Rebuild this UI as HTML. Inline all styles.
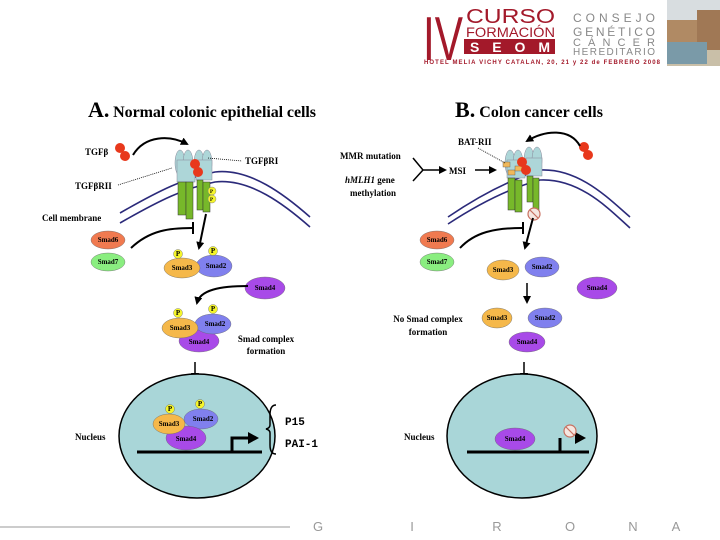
<!DOCTYPE html>
<html><head><meta charset="utf-8"><style>
html,body{margin:0;padding:0;background:#fff;width:720px;height:540px;overflow:hidden}
svg{display:block}
.s{font-family:"Liberation Serif",serif;font-weight:bold}
</style></head><body>
<svg width="720" height="540" viewBox="0 0 720 540" xmlns="http://www.w3.org/2000/svg">
<defs>
<marker id="ah" markerWidth="8" markerHeight="8" refX="6" refY="4" orient="auto" markerUnits="userSpaceOnUse"><path d="M0,0 L8,4 L0,8 z" fill="#000"/></marker>
</defs>
<!-- header -->
<text x="423" y="60" font-family="Liberation Sans,sans-serif" font-size="62" fill="#a3192a" textLength="40" lengthAdjust="spacingAndGlyphs">IV</text>
<text x="466" y="23" font-family="Liberation Sans,sans-serif" font-size="20" fill="#a3192a" textLength="89" lengthAdjust="spacingAndGlyphs">CURSO</text>
<text x="466" y="37" font-family="Liberation Sans,sans-serif" font-size="14" fill="#a3192a" textLength="89" lengthAdjust="spacingAndGlyphs">FORMACIÓN</text>
<rect x="464" y="39" width="91" height="15" fill="#a3192a"/>
<text x="470" y="52" font-family="Liberation Sans,sans-serif" font-weight="bold" font-size="14" fill="#fff" textLength="80" lengthAdjust="spacing">SEOM</text>
<g font-family="Liberation Sans,sans-serif" font-size="12" fill="#888">
<text x="573" y="22" textLength="82" lengthAdjust="spacing">CONSEJO</text>
<text x="573" y="36" textLength="82" lengthAdjust="spacing">GENÉTICO</text>
<text x="573" y="46" font-size="11" textLength="82" lengthAdjust="spacing">CÁNCER</text>
<text x="573" y="55" font-size="10" textLength="82" lengthAdjust="spacing">HEREDITARIO</text>
</g>
<text x="424" y="64" font-family="Liberation Sans,sans-serif" font-weight="bold" font-size="6" fill="#a3192a" textLength="236" lengthAdjust="spacing">HOTEL MELIA VICHY CATALAN, 20, 21 y 22 de FEBRERO 2008</text>
<rect x="667" y="0" width="53" height="66" fill="#c9bfa8"/>
<rect x="667" y="0" width="53" height="20" fill="#d8dde0"/>
<rect x="667" y="20" width="30" height="22" fill="#b08a64"/>
<rect x="697" y="10" width="23" height="40" fill="#a07855"/>
<rect x="667" y="42" width="40" height="22" fill="#7a9aa8"/>

<!-- titles -->
<text x="88" y="117" class="s" font-size="16" textLength="228" lengthAdjust="spacing"><tspan font-size="22">A.</tspan> Normal colonic epithelial cells</text>
<text x="455" y="117" class="s" font-size="16" textLength="148" lengthAdjust="spacing"><tspan font-size="22">B.</tspan> Colon cancer cells</text>

<!-- membranes -->
<g fill="none" stroke="#2b2a7a" stroke-width="1.6">
<path d="M120,213 C160,190 185,178 215,172 C250,168 285,195 310,217"/>
<path d="M120,223 C160,200 185,188 215,182 C250,178 285,205 310,227"/>
<path d="M448,217 C480,195 510,180 540,170 C580,168 610,200 630,217"/>
<path d="M448,224 C480,203 510,188 540,180 C580,178 610,210 630,228"/>
</g>

<!-- LEFT receptors -->
<g fill="#add6d8" stroke="#889" stroke-width="0.5">
<ellipse cx="180" cy="163" rx="5" ry="13"/><ellipse cx="188" cy="163" rx="5" ry="13"/>
<ellipse cx="199" cy="163" rx="5" ry="13"/><ellipse cx="207" cy="163" rx="5" ry="13"/>
<rect x="177" y="160" width="18" height="22"/><rect x="196" y="160" width="16" height="20"/>
</g>
<g fill="#77b82a" stroke="#333" stroke-width="0.5">
<rect x="178" y="182" width="8" height="33"/><rect x="186" y="182" width="7" height="37"/>
<rect x="197" y="180" width="6" height="30"/><rect x="203" y="182" width="7" height="30"/>
</g>
<circle cx="195" cy="164" r="5" fill="#e8381c"/><circle cx="198" cy="172" r="5" fill="#e8381c"/>
<circle cx="212" cy="191" r="4" fill="#f5f52a" stroke="#888" stroke-width="0.5"/><circle cx="212" cy="199" r="4" fill="#f5f52a" stroke="#888" stroke-width="0.5"/>
<text x="210" y="193" font-size="5" font-family="Liberation Serif" font-weight="bold">P</text><text x="210" y="201" font-size="5" font-family="Liberation Serif" font-weight="bold">P</text>
<line x1="208" y1="158" x2="242" y2="161" stroke="#000" stroke-dasharray="1,1" stroke-width="0.8"/>
<line x1="118" y1="185" x2="172" y2="168" stroke="#000" stroke-dasharray="1,1" stroke-width="0.8"/>
<g class="s" font-size="9">
<text x="85" y="155">TGFβ</text>
<text x="245" y="164">TGFβRI</text>
<text x="75" y="189">TGFβRII</text>
<text x="42" y="221">Cell membrane</text>
</g>
<circle cx="120" cy="148" r="5" fill="#e8381c"/><circle cx="125" cy="156" r="5" fill="#e8381c"/>
<path d="M133,155 C145,135 170,135 187,144" fill="none" stroke="#000" stroke-width="2" marker-end="url(#ah)"/>
<path d="M206,214 L199,248" stroke="#000" stroke-width="2" marker-end="url(#ah)"/>
<path d="M131,248 C150,230 170,228 192,228" fill="none" stroke="#000" stroke-width="2"/>
<line x1="193" y1="222" x2="193" y2="234" stroke="#000" stroke-width="2"/>

<g font-family="Liberation Serif,serif" font-weight="bold" font-size="7" text-anchor="middle" stroke="#666" stroke-width="0.4">
<ellipse cx="108" cy="240" rx="17" ry="9" fill="#f07a50"/><text x="108" y="242" stroke="none">Smad6</text>
<ellipse cx="108" cy="262" rx="17" ry="9" fill="#8aee80"/><text x="108" y="264" stroke="none">Smad7</text>
<ellipse cx="214" cy="266" rx="18" ry="11" fill="#8080ee"/><text x="216" y="268" stroke="none">Smad2</text>
<ellipse cx="182" cy="268" rx="18" ry="10" fill="#f5b84a"/><text x="182" y="270" stroke="none">Smad3</text>
<circle cx="178" cy="254" r="4.5" fill="#f5f52a"/><text x="178" y="256" stroke="none">P</text>
<circle cx="213" cy="251" r="4.5" fill="#f5f52a"/><text x="213" y="253" stroke="none">P</text>
<ellipse cx="265" cy="288" rx="20" ry="11" fill="#a84ae8"/><text x="265" y="290" stroke="none">Smad4</text>
<ellipse cx="199" cy="341" rx="20" ry="11" fill="#a84ae8"/><text x="199" y="344" stroke="none">Smad4</text>
<ellipse cx="213" cy="324" rx="18" ry="10" fill="#8080ee"/><text x="215" y="326" stroke="none">Smad2</text>
<ellipse cx="180" cy="328" rx="18" ry="10" fill="#f5b84a"/><text x="180" y="330" stroke="none">Smad3</text>
<circle cx="178" cy="313" r="4.5" fill="#f5f52a"/><text x="178" y="315" stroke="none">P</text>
<circle cx="213" cy="309" r="4.5" fill="#f5f52a"/><text x="213" y="311" stroke="none">P</text>
</g>
<path d="M248,286 C220,286 200,290 197,303" fill="none" stroke="#000" stroke-width="2" marker-end="url(#ah)"/>
<text x="266" y="342" class="s" font-size="9" text-anchor="middle">Smad complex</text>
<text x="266" y="354" class="s" font-size="9" text-anchor="middle">formation</text>
<line x1="195" y1="362" x2="195" y2="375" stroke="#000" stroke-width="1.5"/>
<path d="M191,373 L195,381 L199,373z" fill="#000"/>

<!-- LEFT nucleus -->
<ellipse cx="197" cy="436" rx="78" ry="62" fill="#a9d6d8" stroke="#000" stroke-width="1.5"/>
<text x="75" y="440" class="s" font-size="9">Nucleus</text>
<line x1="137" y1="452" x2="262" y2="452" stroke="#000" stroke-width="3"/>
<path d="M232,452 L232,438 L250,438" fill="none" stroke="#000" stroke-width="3"/>
<path d="M248,432 L259,438 L248,444z" fill="#000"/>
<g font-family="Liberation Serif,serif" font-weight="bold" font-size="7" text-anchor="middle" stroke="#666" stroke-width="0.4">
<ellipse cx="201" cy="419" rx="17" ry="10" fill="#8080ee"/><text x="203" y="421" stroke="none">Smad2</text>
<ellipse cx="186" cy="438" rx="20" ry="12" fill="#a84ae8"/><text x="186" y="441" stroke="none">Smad4</text>
<ellipse cx="169" cy="424" rx="16" ry="10" fill="#f5b84a"/><text x="169" y="426" stroke="none">Smad3</text>
<circle cx="170" cy="409" r="4.5" fill="#f5f52a"/><text x="170" y="411" stroke="none">P</text>
<circle cx="200" cy="404" r="4.5" fill="#f5f52a"/><text x="200" y="406" stroke="none">P</text>
</g>
<path d="M276,405 Q270,405 270,415 L270,425 Q270,428 266,429 Q270,430 270,433 L270,445 Q270,454 276,454" fill="none" stroke="#000" stroke-width="1.5"/>
<text x="285" y="425" font-family="Liberation Mono,monospace" font-weight="bold" font-size="11">P15</text>
<text x="285" y="447" font-family="Liberation Mono,monospace" font-weight="bold" font-size="11">PAI-1</text>

<!-- RIGHT receptors -->
<g fill="#add6d8" stroke="#889" stroke-width="0.5">
<ellipse cx="510" cy="163" rx="5" ry="13"/><ellipse cx="518" cy="163" rx="5" ry="13"/>
<ellipse cx="529" cy="160" rx="5" ry="13"/><ellipse cx="537" cy="160" rx="5" ry="13"/>
<rect x="507" y="160" width="18" height="18"/><rect x="526" y="158" width="16" height="18"/>
</g>
<g fill="#77b82a" stroke="#333" stroke-width="0.5">
<rect x="508" y="178" width="7" height="32"/><rect x="515" y="180" width="7" height="32"/>
<rect x="527" y="176" width="6" height="26"/><rect x="533" y="178" width="6" height="32"/>
</g>
<rect x="503" y="162" width="7" height="5" fill="#f0b85a" stroke="#555" stroke-width="0.4"/>
<rect x="508" y="170" width="7" height="5" fill="#f0b85a" stroke="#555" stroke-width="0.4"/>
<rect x="515" y="166" width="7" height="5" fill="#f0b85a" stroke="#555" stroke-width="0.4"/>
<circle cx="522" cy="162" r="5" fill="#e8381c"/><circle cx="526" cy="170" r="5" fill="#e8381c"/>
<circle cx="584" cy="147" r="5" fill="#e8381c"/><circle cx="588" cy="155" r="5" fill="#e8381c"/>
<path d="M580,146 C570,128 545,130 527,141" fill="none" stroke="#000" stroke-width="2" marker-end="url(#ah)"/>
<text x="458" y="145" class="s" font-size="9">BAT-RII</text>
<line x1="478" y1="148" x2="505" y2="163" stroke="#000" stroke-dasharray="1,1" stroke-width="0.8"/>
<text x="340" y="159" class="s" font-size="9">MMR mutation</text>
<text x="345" y="183" class="s" font-size="9"><tspan font-style="italic">hMLH1</tspan> gene</text>
<text x="350" y="196" class="s" font-size="9">methylation</text>
<path d="M413,158 L423,170 L413,181 M423,170 L445,170" fill="none" stroke="#000" stroke-width="1.5" marker-end="url(#ah)"/>
<text x="449" y="174" class="s" font-size="9">MSI</text>
<path d="M475,170 L495,170" stroke="#000" stroke-width="1.5" marker-end="url(#ah)"/>
<circle cx="534" cy="214" r="6" fill="#f5e6e0" stroke="#c87060" stroke-width="1.2"/>
<line x1="530" y1="210" x2="538" y2="218" stroke="#c87060" stroke-width="1.2"/>
<path d="M533,218 L525,248" stroke="#000" stroke-width="2" marker-end="url(#ah)"/>
<path d="M460,248 C475,232 495,228 522,228" fill="none" stroke="#000" stroke-width="2"/>
<line x1="523" y1="222" x2="523" y2="234" stroke="#000" stroke-width="2"/>

<g font-family="Liberation Serif,serif" font-weight="bold" font-size="7" text-anchor="middle" stroke="#666" stroke-width="0.4">
<ellipse cx="437" cy="240" rx="17" ry="9" fill="#f07a50"/><text x="437" y="242" stroke="none">Smad6</text>
<ellipse cx="437" cy="262" rx="17" ry="9" fill="#8aee80"/><text x="437" y="264" stroke="none">Smad7</text>
<ellipse cx="503" cy="270" rx="16" ry="10" fill="#f5b84a"/><text x="503" y="272" stroke="none">Smad3</text>
<ellipse cx="542" cy="267" rx="17" ry="10" fill="#8080ee"/><text x="542" y="269" stroke="none">Smad2</text>
<ellipse cx="597" cy="288" rx="20" ry="11" fill="#a84ae8"/><text x="597" y="290" stroke="none">Smad4</text>
<ellipse cx="497" cy="318" rx="15" ry="10" fill="#f5b84a"/><text x="497" y="320" stroke="none">Smad3</text>
<ellipse cx="545" cy="318" rx="17" ry="10" fill="#8080ee"/><text x="545" y="320" stroke="none">Smad2</text>
<ellipse cx="527" cy="342" rx="18" ry="10" fill="#a84ae8"/><text x="527" y="344" stroke="none">Smad4</text>
</g>
<path d="M527,283 L527,302" stroke="#000" stroke-width="1.5" marker-end="url(#ah)"/>
<text x="428" y="322" class="s" font-size="9" text-anchor="middle">No Smad complex</text>
<text x="428" y="335" class="s" font-size="9" text-anchor="middle">formation</text>
<line x1="524" y1="362" x2="524" y2="375" stroke="#000" stroke-width="1.5"/>
<path d="M520,373 L524,381 L528,373z" fill="#000"/>

<!-- RIGHT nucleus -->
<ellipse cx="522" cy="436" rx="75" ry="62" fill="#a9d6d8" stroke="#000" stroke-width="1.5"/>
<text x="404" y="440" class="s" font-size="9">Nucleus</text>
<line x1="467" y1="452" x2="589" y2="452" stroke="#000" stroke-width="3"/>
<line x1="560" y1="452" x2="560" y2="438" stroke="#000" stroke-width="3"/>
<path d="M575,432 L586,438 L575,444z" fill="#000"/>
<circle cx="570" cy="431" r="6" fill="#f5e6e0" stroke="#c87060" stroke-width="1.2"/>
<line x1="566" y1="427" x2="574" y2="435" stroke="#c87060" stroke-width="1.2"/>
<ellipse cx="515" cy="439" rx="20" ry="11" fill="#a84ae8" stroke="#666" stroke-width="0.4"/>
<text x="515" y="441" font-family="Liberation Serif,serif" font-weight="bold" font-size="7" text-anchor="middle">Smad4</text>

<!-- footer -->
<line x1="0" y1="527" x2="290" y2="527" stroke="#999" stroke-width="1"/>
<g font-family="Liberation Sans,sans-serif" font-size="13" fill="#999" text-anchor="middle">
<text x="318" y="531">G</text><text x="412" y="531">I</text><text x="497" y="531">R</text>
<text x="570" y="531">O</text><text x="633" y="531">N</text><text x="676" y="531">A</text>
</g>
</svg>
</body></html>
